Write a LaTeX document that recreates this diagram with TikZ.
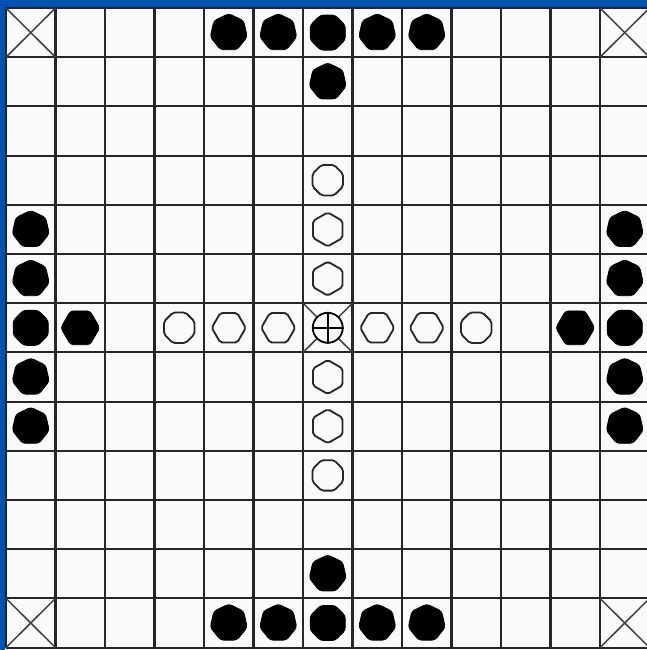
\documentclass[tikz,border=0pt]{standalone}
\usetikzlibrary{shapes.geometric}
\definecolor{frameblue}{RGB}{0,82,178}
\definecolor{boardwhite}{RGB}{250,250,250}
\tikzset{
  gridline/.style={line width=2.1pt, black!85},
  cornerx/.style={line width=1.5pt, black!75},
  blk/.style={regular polygon, regular polygon sides=7, fill=black, draw=black, line width=0.8pt, minimum size=38pt, inner sep=0pt, rounded corners=3pt},
  blksq/.style={blk, regular polygon sides=8, minimum size=38pt},
  blkhex/.style={blk, regular polygon sides=6, minimum size=39pt},
  wht/.style={regular polygon, regular polygon sides=6, draw=black!85, fill=boardwhite, line width=1.8pt, minimum size=34pt, inner sep=0pt, rounded corners=2pt},
  whtv/.style={wht, shape border rotate=90},
  whtoct/.style={wht, regular polygon sides=8, minimum size=33pt},
  king/.style={circle, draw=black, line width=1.8pt, fill=boardwhite, minimum size=30pt, inner sep=0pt}
}
\begin{document}
\begin{tikzpicture}[x=1pt,y=-1pt]
\useasboundingbox (0,0) rectangle (647,650);
\fill[frameblue] (0,0) rectangle (647,650);
\fill[boardwhite] (5,8) rectangle (647,650);
\begin{scope}[shift={(6,8)}, x=49.5pt, y=-49.2pt]
  % grid
  \foreach \i in {0,...,13} {
    \draw[gridline] (\i,0) -- (\i,13);
    \draw[gridline] (0,\i) -- (13,\i);
  }
  % corner and throne crosses
  \foreach \a/\b in {0/0,12/0,0/12,12/12,6/6} {
    \draw[cornerx] (\a,\b) -- (\a+1,\b+1);
    \draw[cornerx] (\a+1,\b) -- (\a,\b+1);
  }
  % black pieces
  \foreach \i in {4,5,7,8} {
    \node[blk] (bt\i) at (\i+0.5,0.5) {};
    \node[blk] (bb\i) at (\i+0.5,12.5) {};
    \node[blk] (bl\i) at (0.5,\i+0.5) {};
    \node[blk] (br\i) at (12.5,\i+0.5) {};
  }
  \node[blksq] (bt6) at (6.5,0.5) {};
  \node[blksq] (bb6) at (6.5,12.5) {};
  \node[blksq] (bl6) at (0.5,6.5) {};
  \node[blksq] (br6) at (12.5,6.5) {};
  \node[blk] (bti) at (6.5,1.5) {};
  \node[blk] (bbi) at (6.5,11.5) {};
  \node[blkhex] (bli) at (1.5,6.5) {};
  \node[blkhex] (bri) at (11.5,6.5) {};
  % white pieces
  \node[whtoct] (wl3) at (3.5,6.5) {};
  \node[wht] (wl4) at (4.5,6.5) {};
  \node[wht] (wl5) at (5.5,6.5) {};
  \node[wht] (wr7) at (7.5,6.5) {};
  \node[wht] (wr8) at (8.5,6.5) {};
  \node[whtoct] (wr9) at (9.5,6.5) {};
  \node[whtoct] (wu3) at (6.5,3.5) {};
  \node[whtv] (wu4) at (6.5,4.5) {};
  \node[whtv] (wu5) at (6.5,5.5) {};
  \node[whtv] (wd7) at (6.5,7.5) {};
  \node[whtv] (wd8) at (6.5,8.5) {};
  \node[whtoct] (wd9) at (6.5,9.5) {};
  % king
  \node[king] (k) at (6.5,6.5) {};
  \draw[line width=2pt] (k.north) -- (k.south);
  \draw[line width=2pt] (k.west) -- (k.east);
\end{scope}
\end{tikzpicture}
\end{document}
